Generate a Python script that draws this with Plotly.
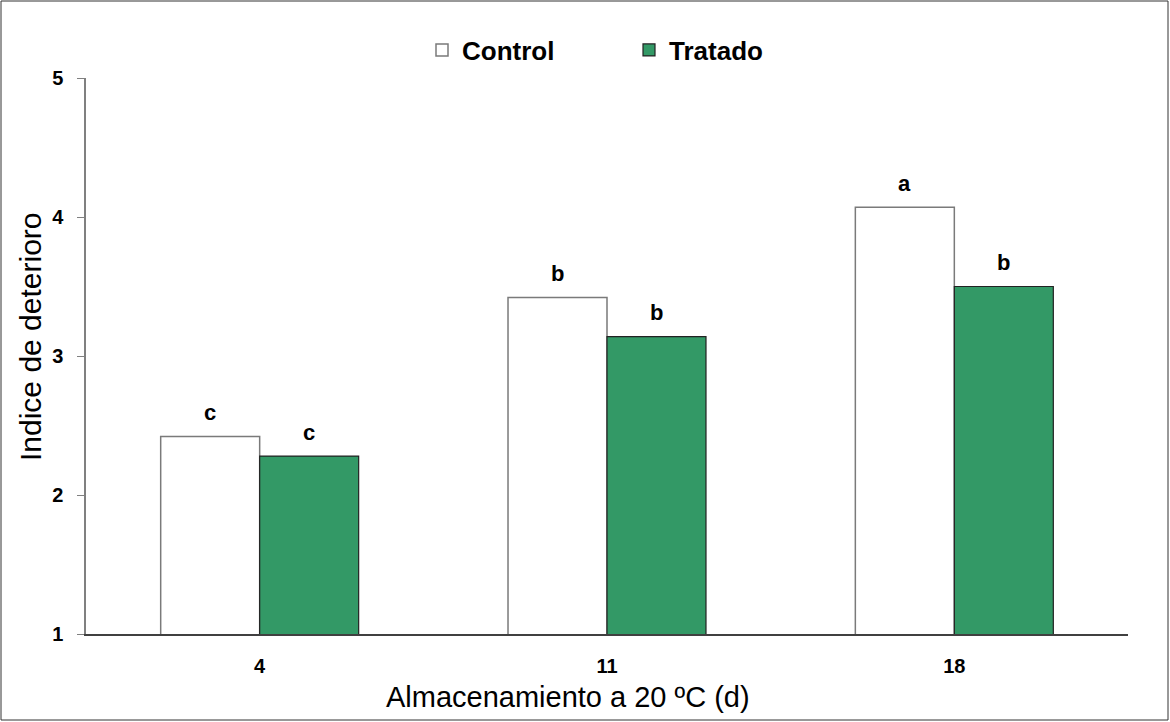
import plotly.graph_objects as go

dias = ["4", "11", "18"]
control = [2.42, 3.42, 4.07]
tratado = [2.28, 3.14, 3.50]
letras_control = ["c", "b", "a"]
letras_tratado = ["c", "b", "b"]

L, R, T, B = 86, 42, 78, 88
W, H = 1170, 722
pw, ph = W - L - R, H - T - B

fig = go.Figure()
fig.add_trace(go.Bar(x=dias, y=control, name="Control",
                     marker=dict(color="white", line=dict(color="#7a7a7a", width=1.5))))
fig.add_trace(go.Bar(x=dias, y=tratado, name="Tratado",
                     marker=dict(color="#339966", line=dict(color="#222222", width=1.2))))

bw = 99
for ys, ls, sh in [(control, letras_control, -bw / 2), (tratado, letras_tratado, bw / 2)]:
    for i, (y, l) in enumerate(zip(ys, ls)):
        fig.add_annotation(x=i, y=y, text="<b>%s</b>" % l, showarrow=False,
                           xshift=sh, yshift=24, font=dict(size=22, color="black"))

# axis titles
fig.add_annotation(text="Almacenamiento a 20 ºC (d)", xref="paper", yref="paper",
                   x=(568 - L) / pw, y=-(697 - (T + ph)) / ph, showarrow=False,
                   xanchor="center", yanchor="middle", font=dict(size=29, color="black"))
fig.add_annotation(text="Indice de deterioro", xref="paper", yref="paper",
                   x=(30 - L) / pw, y=(T + ph - 337) / ph, showarrow=False, textangle=-90,
                   xanchor="center", yanchor="middle", font=dict(size=30, color="black"))

# outer frame
fig.add_shape(type="rect", xref="paper", yref="paper",
              x0=(1 - L) / pw, x1=(W - 2 - L) / pw,
              y0=-(H - 2 - (T + ph)) / ph, y1=(T + ph - 1) / ph,
              line=dict(color="#333333", width=1))

fig.update_layout(
    width=W, height=H,
    margin=dict(l=L, r=R, t=T, b=B, autoexpand=False),
    paper_bgcolor="white", plot_bgcolor="white",
    font=dict(family="Liberation Sans, Arial, sans-serif", color="black"),
    barmode="group", bargap=0.43, bargroupgap=0,
    showlegend=True,
    legend=dict(orientation="h", x=(422 - L) / pw, xanchor="left", y=(T + ph - 50) / ph,
                yanchor="middle",
                font=dict(size=26, family="Liberation Sans, Arial, sans-serif", weight="bold"),
                itemwidth=30, entrywidth=162, tracegroupgap=0),
    xaxis=dict(type="category", showline=True, linecolor="#404040", linewidth=1.5, ticks="",
               tickfont=dict(size=20, weight="bold"), ticklabelstandoff=13),
    yaxis=dict(range=[1, 5], tickvals=[1, 2, 3, 4, 5], showline=True, linecolor="#808080",
               linewidth=1.5, ticks="outside", ticklen=7, tickcolor="#808080",
               tickfont=dict(size=20, weight="bold"), ticklabelstandoff=10,
               showgrid=False, zeroline=False),
)
fig.write_html("out.html")
